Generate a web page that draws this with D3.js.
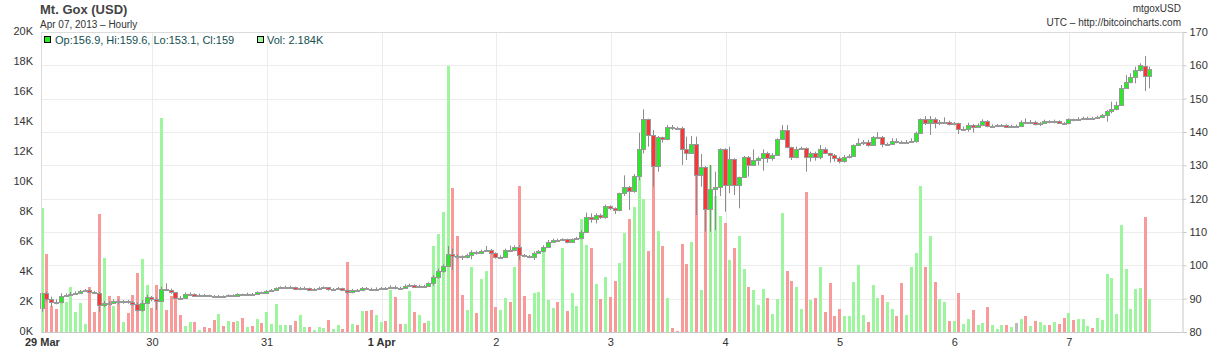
<!DOCTYPE html>
<html>
<head>
<meta charset="utf-8">
<script src="https://cdn.jsdelivr.net/npm/d3@7"></script>
<style>
  body { margin: 0; background: #fff; }
  text { font-family: "Liberation Sans", Arial, sans-serif; }
</style>
</head>
<body>
<script>

// hourly Mt. Gox candles, 29 Mar 2013 01:00 UTC onwards (one value per hour)
var firstHour = Date.UTC(2013, 2, 29, 1);

var opens = [87.1,91.6,89.8,89.1,88.9,90.9,91.1,91.4,91.8,92.3,92.6,92.1,91.8,88.0,88.8,88.6,89.3,89.1,89.3,89.1,88.4,86.6,88.8,90.4,89.8,
  89.4,92.8,92.7,91.9,90.3,90.2,91.3,91.4,90.9,91.1,91.0,90.9,90.6,90.8,90.7,91.0,90.9,91.3,91.1,91.5,91.4,91.9,91.8,92.3,92.6,93.1,
  93.4,93.5,93.5,93.0,93.1,93.2,92.7,92.9,93.3,93.4,92.8,92.9,93.2,92.7,92.0,92.6,92.5,93.2,93.0,92.9,93.0,93.2,93.1,93.6,93.3,93.2,
  93.8,94.1,93.6,93.9,93.8,94.6,96.4,98.3,99.8,103.3,102.8,102.7,102.4,103.1,104.1,103.8,104.3,104.6,103.8,102.4,102.6,104.6,104.5,105.6,103.1,102.9,
  102.6,103.8,104.2,105.4,106.9,107.6,107.5,107.8,107.0,107.8,108.1,110.0,114.6,114.0,115.1,114.4,117.9,117.2,116.6,121.6,123.4,122.3,126.9,134.9,143.8,139.0,129.9,
  138.4,137.8,141.6,141.2,141.1,134.8,133.8,136.4,127.0,129.6,116.8,122.8,123.6,134.8,124.1,131.8,124.0,126.4,132.6,130.1,131.6,132.1,133.8,132.1,133.1,137.8,
  140.6,135.4,132.4,134.8,135.1,132.4,133.8,132.4,134.8,133.6,133.2,132.2,131.2,132.6,132.8,136.0,136.8,136.9,136.0,138.4,138.6,136.4,136.5,137.4,137.0,136.8,
  137.0,137.3,139.8,143.8,142.8,143.8,142.8,142.9,143.0,142.5,142.6,140.9,141.0,142.1,141.6,142.1,143.4,141.8,141.9,142.0,142.1,141.6,141.8,141.8,143.1,143.0,
  143.1,142.5,142.6,143.3,143.1,143.3,142.8,142.6,143.8,143.7,144.0,144.2,144.3,144.2,144.6,145.1,146.3,146.9,148.1,153.1,154.9,156.4,158.6,159.8,156.9];

var highs = [91.8,92.1,90.6,89.8,91.6,91.6,92.0,92.2,92.6,92.9,92.8,92.3,92.0,89.3,89.2,89.8,89.7,89.6,89.6,89.3,88.9,89.6,91.1,90.8,90.4,
  93.6,94.6,93.0,92.0,90.8,91.8,91.9,91.6,91.5,91.4,91.2,91.1,91.1,91.0,91.3,91.3,91.6,91.5,91.8,91.7,92.2,92.1,92.6,92.9,93.4,93.7,
  93.9,93.9,93.6,93.5,93.6,93.3,93.2,93.6,93.7,93.5,93.2,93.5,93.3,92.8,92.9,92.9,93.5,93.5,93.3,93.4,93.5,93.5,94.0,93.9,93.6,94.3,
  94.5,94.3,94.2,94.2,94.9,97.1,99.0,100.3,105.8,105.1,103.3,103.0,103.5,104.5,104.4,104.7,105.8,104.9,103.9,103.0,105.0,105.9,106.0,106.1,103.4,103.1,
  104.2,104.6,106.0,107.6,108.0,108.0,108.1,108.0,108.1,108.5,110.5,115.8,115.6,115.6,115.5,118.2,118.0,117.4,121.8,127.0,123.8,127.4,139.8,146.8,144.0,140.6,
  138.8,138.6,142.1,142.1,141.6,141.6,138.6,138.8,138.6,133.4,129.8,130.1,128.1,135.1,135.1,135.6,132.1,126.6,132.8,132.8,134.8,132.6,134.8,134.1,133.6,138.1,
  142.1,142.1,135.6,135.6,135.6,135.4,134.1,134.1,136.1,135.4,133.8,133.4,132.6,133.1,133.4,136.3,138.1,137.6,137.6,138.8,139.9,138.8,136.8,138.1,138.1,137.4,
  137.6,138.1,140.1,144.1,144.8,144.8,144.4,143.6,144.4,143.4,143.0,142.8,141.6,142.8,142.4,142.6,143.8,143.6,142.3,142.4,142.4,142.3,142.2,142.2,143.5,144.1,
  143.6,143.4,143.0,143.7,143.5,143.7,143.5,143.0,144.1,144.0,144.4,144.6,144.6,144.6,144.9,145.4,146.6,149.1,149.1,154.1,157.1,157.6,159.6,160.6,162.8,159.6];

var lows = [86.1,89.1,87.6,88.3,88.6,90.6,90.9,91.2,91.7,92.1,91.8,91.4,86.1,87.5,88.0,88.4,88.2,88.5,88.5,87.9,86.1,86.1,88.6,89.2,86.6,
  89.0,92.6,91.5,90.0,89.8,90.1,91.0,90.6,90.7,90.6,90.5,90.3,90.4,90.4,90.6,90.6,90.8,90.8,90.9,91.1,91.2,91.5,91.6,92.2,92.4,92.9,
  93.1,93.0,92.6,92.5,92.8,92.3,92.5,92.6,93.0,92.4,92.5,92.7,92.3,91.4,91.6,92.1,92.3,92.6,92.4,92.6,92.7,92.7,92.9,92.8,92.8,93.0,
  93.7,93.2,93.3,93.4,93.6,93.9,96.0,97.8,99.5,98.6,102.0,101.6,102.1,101.8,103.2,103.4,104.0,103.3,102.0,102.0,102.3,104.0,104.2,101.6,102.4,102.1,
  101.6,103.6,103.9,105.2,106.7,107.1,107.3,106.6,106.7,107.6,107.8,110.0,112.8,112.6,113.9,114.0,116.6,115.4,116.2,120.8,116.6,121.8,125.5,133.6,135.6,123.6,
  128.1,136.8,137.5,140.6,140.6,130.1,131.6,133.4,115.1,123.6,110.1,110.1,110.6,120.8,116.1,121.6,121.1,117.1,126.6,126.6,130.0,130.0,128.4,130.8,131.4,133.0,
  137.6,135.1,131.6,132.1,134.6,128.1,131.1,131.4,131.8,133.4,130.8,131.1,130.6,130.8,132.1,132.6,136.0,136.1,135.6,135.8,138.1,135.4,136.0,136.1,136.6,136.4,
  136.6,136.8,136.8,139.6,142.1,139.1,141.1,142.1,142.4,142.0,142.0,139.4,140.4,140.1,139.8,141.4,141.8,141.4,141.4,141.6,141.6,141.3,141.4,141.4,141.6,142.6,
  142.6,142.0,141.8,142.4,142.6,142.6,142.4,142.2,142.3,143.2,143.4,143.8,143.9,143.9,144.0,144.5,143.1,145.6,146.5,147.8,153.1,154.6,154.6,158.1,152.3,153.1];

var closes = [91.6,89.8,89.1,88.9,90.9,91.1,91.4,91.8,92.3,92.6,92.1,91.8,88.0,88.8,88.6,89.3,89.1,89.3,89.1,88.4,86.6,88.8,90.4,89.8,89.4,
  92.8,92.7,91.9,90.3,90.2,91.3,91.4,90.9,91.1,91.0,90.9,90.6,90.8,90.7,91.0,90.9,91.3,91.1,91.5,91.4,91.9,91.8,92.3,92.6,93.1,93.4,
  93.5,93.5,93.0,93.1,93.2,92.7,92.9,93.3,93.4,92.8,92.9,93.2,92.7,92.0,92.6,92.5,93.2,93.0,92.9,93.0,93.2,93.1,93.6,93.3,93.2,93.8,
  94.1,93.6,93.9,93.8,94.6,96.4,98.3,99.8,103.3,102.8,102.7,102.4,103.1,104.1,103.8,104.3,104.6,103.8,102.4,102.6,104.6,104.5,105.6,103.1,102.9,102.6,
  103.8,104.2,105.4,106.9,107.6,107.5,107.8,107.0,107.8,108.1,110.0,114.6,114.0,115.1,114.4,117.9,117.2,116.6,121.6,123.4,122.3,126.9,134.9,143.8,139.0,129.9,
  138.4,137.8,141.6,141.2,141.1,134.8,133.8,136.4,127.0,129.6,116.8,122.8,123.6,134.8,124.1,131.8,124.0,126.4,132.6,130.1,131.6,132.1,133.8,132.1,133.1,137.8,
  140.6,135.4,132.4,134.8,135.1,132.4,133.8,132.4,134.8,133.6,133.2,132.2,131.2,132.6,132.8,136.0,136.8,136.9,136.0,138.4,138.6,136.4,136.5,137.4,137.0,136.8,
  137.0,137.3,139.8,143.8,142.8,143.8,142.8,142.9,143.0,142.5,142.6,140.9,141.0,142.1,141.6,142.1,143.4,141.8,141.9,142.0,142.1,141.6,141.8,141.8,143.1,143.0,
  143.1,142.5,142.6,143.3,143.1,143.3,142.8,142.6,143.8,143.7,144.0,144.2,144.3,144.2,144.6,145.1,146.3,146.9,148.1,153.1,154.9,156.4,158.6,160.1,156.8,159.0];

// volume in thousands of BTC
var volumes = [8.29,5.2,1.73,1.56,2.4,2.0,3.0,1.33,1.93,0.53,3.0,1.33,7.9,4.93,2.4,1.73,2.4,0.67,1.27,2.47,3.93,4.87,3.13,1.6,3.13,
  14.29,1.47,2.42,2.36,1.13,0.4,0.67,0.67,0.13,0.33,0.27,0.8,1.2,0.4,0.73,0.67,0.73,0.93,0.33,0.4,0.87,0.6,1.33,0.53,1.87,0.47,
  0.47,0.47,0.73,1.13,0.33,0.33,0.13,0.33,0.27,0.8,0.2,0.47,0.2,4.67,0.53,0.47,1.4,1.4,1.47,1.13,0.67,0.73,2.8,2.33,0.53,0.53,
  2.73,1.33,1.13,0.6,0.73,5.73,6.53,8.0,17.73,9.6,6.4,2.47,1.47,4.33,1.27,3.53,4.07,5.47,1.67,1.47,2.3,2.0,4.33,9.73,2.4,1.2,
  2.6,2.67,5.47,2.13,1.6,2.0,5.6,1.4,2.6,1.73,7.53,5.8,5.6,3.2,2.2,3.67,2.33,3.4,4.6,6.6,7.53,8.33,10.33,8.87,5.4,13.07,6.73,
  5.73,2.27,0.27,0.05,5.87,4.53,6.0,11.0,2.8,8.13,11.13,9.07,7.73,7.29,4.8,5.6,6.4,4.2,3.0,2.8,1.8,2.87,2.27,1.2,2.2,7.93,
  4.07,3.4,3.0,1.53,9.33,2.13,2.27,4.33,1.33,3.27,1.07,1.53,1.07,1.07,3.33,4.47,1.13,0.67,3.13,2.27,2.47,2.0,1.53,1.07,3.27,1.13,
  4.33,5.27,9.73,4.33,6.4,3.33,2.2,2.0,0.73,0.73,2.6,0.53,0.87,1.47,0.47,0.6,1.67,0.47,0.2,0.47,0.47,0.33,0.6,0.87,1.07,0.4,
  0.73,0.67,0.47,0.47,0.67,0.53,0.93,1.27,0.8,0.87,0.87,0.4,0.27,0.93,0.8,3.87,3.6,1.2,7.13,4.2,1.53,2.87,2.93,7.67,2.184];

// axis labels
var dayLabels = ["29 Mar", "30", "31", "1 Apr", "2", "3", "4", "5", "6", "7"];
var priceTicks = [80, 90, 100, 110, 120, 130, 140, 150, 160, 170];
var volumeTicks = [0, 2, 4, 6, 8, 10, 12, 14, 16, 18, 20];

window.onload = function() {

  var width = 1221, height = 348;
  var left = 41, right = 1182, top = 32, bottom = 332;

  // colours
  var upFill = "#22ee22", downFill = "#ff3333", flatFill = "#bbbbbb";
  var upVol = "#9df59d", downVol = "#f99a9a", flatVol = "#bbbbbb";

  // build rows from the arrays
  var candles = closes.map(function(c, i) {
    return {
      time: new Date(firstHour + i * 3600000),
      open: opens[i], high: highs[i], low: lows[i], close: c, vol: volumes[i]
    };
  });

  var svg = d3.select("body").append("svg")
              .attr("width", width)
              .attr("height", height);

  // scales
  var xScale = d3.scaleUtc()
                 .domain([new Date(Date.UTC(2013, 2, 29, 0, 39)), new Date(Date.UTC(2013, 3, 7, 23, 36))])
                 .range([left, right]);

  var yPrice = d3.scaleLinear().domain([80, 170]).range([bottom, top]);
  var yVol = d3.scaleLinear().domain([0, 20]).range([bottom, top]);

  var dayDates = dayLabels.map(function(d, i) {
    return new Date(Date.UTC(2013, 2, 29 + i));
  });

  // horizontal grid at price ticks
  svg.append("g").selectAll("line")
     .data(priceTicks.slice(1, -1))
     .enter().append("line")
     .attr("x1", left).attr("x2", right)
     .attr("y1", function(d) { return Math.round(yPrice(d)) + 0.5; })
     .attr("y2", function(d) { return Math.round(yPrice(d)) + 0.5; })
     .attr("stroke", "#ececec");

  // vertical grid at day boundaries
  svg.append("g").selectAll("line")
     .data(dayDates.slice(1))
     .enter().append("line")
     .attr("x1", function(d) { return Math.round(xScale(d)) + 0.5; })
     .attr("x2", function(d) { return Math.round(xScale(d)) + 0.5; })
     .attr("y1", top).attr("y2", bottom)
     .attr("stroke", "#ececec");

  function colorOf(d, up, down, flat) {
    if (d.close > d.open) return up;
    if (d.close < d.open) return down;
    return flat;
  }

  // volume bars
  svg.append("g").selectAll("rect")
     .data(candles)
     .enter().append("rect")
     .attr("x", function(d) { return Math.round(xScale(d.time)) - 2; })
     .attr("width", 3)
     .attr("y", function(d) { return Math.round(yVol(d.vol)); })
     .attr("height", function(d) { return bottom - Math.round(yVol(d.vol)); })
     .attr("fill", function(d) { return colorOf(d, upVol, downVol, flatVol); });

  // wicks
  svg.append("g").selectAll("line")
     .data(candles)
     .enter().append("line")
     .attr("x1", function(d) { return Math.round(xScale(d.time)) - 0.5; })
     .attr("x2", function(d) { return Math.round(xScale(d.time)) - 0.5; })
     .attr("y1", function(d) { return yPrice(d.high); })
     .attr("y2", function(d) { return yPrice(d.low); })
     .attr("stroke", "#8c8c8c")
     .attr("stroke-width", 1);

  // candle bodies
  svg.append("g").selectAll("rect")
     .data(candles)
     .enter().append("rect")
     .attr("x", function(d) { return Math.round(xScale(d.time)) - 2.5; })
     .attr("width", 4)
     .attr("y", function(d) { return Math.round(yPrice(Math.max(d.open, d.close))) + 0.5; })
     .attr("height", function(d) {
       return Math.max(1, Math.round(yPrice(Math.min(d.open, d.close))) - Math.round(yPrice(Math.max(d.open, d.close))));
     })
     .attr("fill", function(d) { return colorOf(d, upFill, downFill, flatFill); })
     .attr("stroke", "#999")
     .attr("stroke-width", 1);

  // frame
  svg.append("line").attr("x1", left).attr("x2", right).attr("y1", top + 0.5).attr("y2", top + 0.5).attr("stroke", "#dcdcdc");
  svg.append("line").attr("x1", left).attr("x2", right).attr("y1", bottom + 0.5).attr("y2", bottom + 0.5).attr("stroke", "#c8c8c8");
  svg.append("line").attr("x1", left + 0.5).attr("x2", left + 0.5).attr("y1", top).attr("y2", bottom).attr("stroke", "#dcdcdc");

  // right price axis
  var priceAxis = d3.axisRight(yPrice).tickValues(priceTicks).tickSize(4).tickPadding(3);
  var gP = svg.append("g")
     .attr("transform", "translate(" + (right + 0.5) + ",0)")
     .call(priceAxis);
  gP.select(".domain").attr("stroke", "#c8c8c8");
  gP.selectAll(".tick line").attr("stroke", "#c8c8c8");
  gP.selectAll(".tick text").attr("font-size", 11).attr("fill", "#333")
    .attr("font-family", "Liberation Sans, Arial, sans-serif");

  // left volume axis
  var volAxis = d3.axisLeft(yVol).tickValues(volumeTicks).tickSize(0).tickPadding(8)
                  .tickFormat(function(d) { return d + "K"; });
  var gV = svg.append("g")
     .attr("transform", "translate(" + left + ",0)")
     .call(volAxis);
  gV.select(".domain").remove();
  gV.selectAll(".tick text").attr("font-size", 11).attr("fill", "#333")
    .attr("dy", "0.22em")
    .attr("font-family", "Liberation Sans, Arial, sans-serif");

  // day labels
  svg.append("g").selectAll("text")
     .data(dayLabels)
     .enter().append("text")
     .attr("x", function(d, i) { return i === 0 ? 25 : xScale(dayDates[i]); })
     .attr("y", 345.5)
     .attr("text-anchor", function(d, i) { return i === 0 ? "start" : "middle"; })
     .attr("font-size", 11)
     .attr("font-weight", function(d) { return d.indexOf(" ") > 0 ? "bold" : "normal"; })
     .attr("fill", "#333")
     .text(function(d) { return d; });

  // titles
  svg.append("text").attr("x", 40).attr("y", 14)
     .attr("font-size", 13).attr("font-weight", "bold").attr("fill", "#444")
     .text("Mt. Gox (USD)");
  svg.append("text").attr("x", 40).attr("y", 28)
     .attr("font-size", 10).attr("fill", "#333")
     .text("Apr 07, 2013 \u2013 Hourly");
  svg.append("text").attr("x", 1181).attr("y", 12)
     .attr("text-anchor", "end").attr("font-size", 10).attr("fill", "#333")
     .text("mtgoxUSD");
  svg.append("text").attr("x", 1181).attr("y", 26)
     .attr("text-anchor", "end").attr("font-size", 10).attr("fill", "#333")
     .text("UTC \u2013 http://bitcoincharts.com");

  // legend for the last candle
  var last = candles[candles.length - 1];
  svg.append("rect").attr("x", 44.5).attr("y", 36.5).attr("width", 6).attr("height", 6)
     .attr("fill", upFill).attr("stroke", "#000");
  svg.append("text").attr("x", 55).attr("y", 44)
     .attr("font-size", 11).attr("fill", "#124f4f")
     .text("Op:" + last.open + ", Hi:" + last.high + ", Lo:" + last.low + ", Cl:" + last.close);
  svg.append("rect").attr("x", 257.5).attr("y", 36.5).attr("width", 6).attr("height", 6)
     .attr("fill", upVol).attr("stroke", "#000");
  svg.append("text").attr("x", 267).attr("y", 44)
     .attr("font-size", 11).attr("fill", "#124f4f")
     .text("Vol: " + last.vol + "K");
};
</script>
</body>
</html>
